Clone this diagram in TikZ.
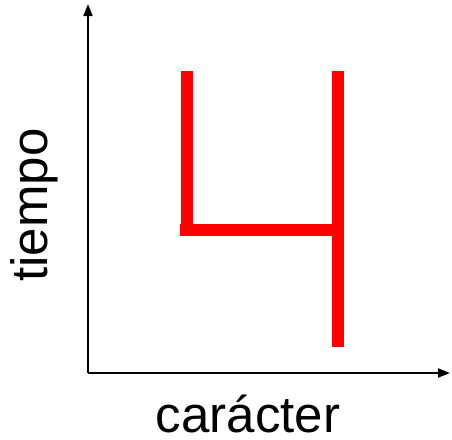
\documentclass[tikz,border=0pt]{standalone}
\usepackage{fontspec}
\setmainfont{Liberation Sans}
\usetikzlibrary{arrows.meta}

\begin{document}
\begin{tikzpicture}[
  x=1pt, y=-1pt,
  axis/.style={-{Triangle[length=12pt, width=9pt]}, line width=2pt, black},
  trace/.style={line width=12pt, red},
  axlbl/.style={font=\fontsize{51}{60}\selectfont, inner sep=0pt, anchor=base},
]
\useasboundingbox (0,0) rectangle (452,439);

% Axes
\coordinate (origin) at (88,373);
\coordinate (ytip) at (88,4);
\coordinate (xtip) at (450,373);
\draw[axis] (origin) -- (ytip);
\draw[axis] (origin) -- (xtip);

% Axis labels
\node[axlbl, rotate=90] (ylbl) at (47,205) {tiempo};
\node[axlbl] (xlbl) at (248,432) {carácter};

% Trajectories
\coordinate (lt) at (187,71);
\coordinate (lb) at (187,236);
\coordinate (hl) at (180,230);
\coordinate (hr) at (338,230);
\coordinate (rt) at (338,71);
\coordinate (rb) at (338,347);
\draw[trace] (lt) -- (lb);
\draw[trace] (hl) -- (hr);
\draw[trace] (rt) -- (rb);

\end{tikzpicture}
\end{document}
